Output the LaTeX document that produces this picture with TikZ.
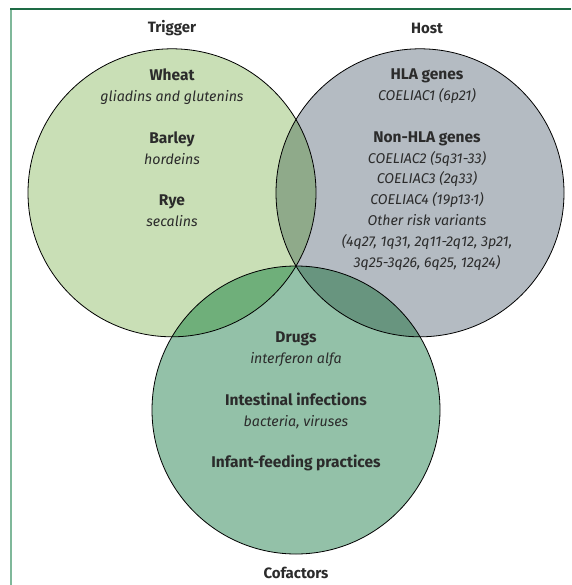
\documentclass[tikz,border=0pt]{standalone}
\usepackage{fontspec}
\setmainfont{Fira Sans}
\usepackage{tikz}
\usetikzlibrary{positioning}
\definecolor{triggergreen} {RGB}{201,223,182}
\definecolor{hostgrey}     {RGB}{180,187,194}
\definecolor{cofactgreen}  {RGB}{147,193,168}
\definecolor{trighost}     {RGB}{143,170,138}
\definecolor{trigcofact}   {RGB}{111,175,122}
\definecolor{hostcofact}   {RGB}{104,149,127}
\definecolor{framegreen}   {RGB}{30,107,69}
\definecolor{framelight}   {RGB}{127,184,154}
\definecolor{inktext}      {RGB}{43,43,43}
\newcommand{\itemhead}[1]{{\fontsize{15.5}{20.8}\selectfont\bfseries #1}}

\begin{document}
\begin{tikzpicture}[
  x=1pt,y=-1pt,
  every node/.style={font=\fontsize{14.2}{20.8}\selectfont,text=inktext},
  head/.style={font=\fontsize{15}{20.8}\selectfont\bfseries,inner sep=0pt},
  blockt/.style={align=center,inner sep=0pt,anchor=north},
  outline/.style={draw=black,line width=0.8pt},
]
\useasboundingbox (0,0) rectangle (571,585);

%% ── Frame lines ──────────────────────────────────────────────────────────
\draw[framelight,line width=1.6pt] (11,9) -- (11,585);
\draw[framegreen,line width=1.6pt] (10.2,9) -- (571,9);

%% ── Circle fills ─────────────────────────────────────────────────────────
\fill[triggergreen] (172,192.8) circle (144);
\fill[hostgrey]     (420,192.8) circle (144);
\fill[cofactgreen]  (296,410)   circle (144);

%% ── Overlaps ─────────────────────────────────────────────────────────────
\begin{scope}
  \clip (172,192.8) circle (144);
  \fill[trighost]   (420,192.8) circle (144);
  \fill[trigcofact] (296,410)   circle (144);
\end{scope}
\begin{scope}
  \clip (420,192.8) circle (144);
  \fill[hostcofact] (296,410) circle (144);
\end{scope}

%% ── Outlines ─────────────────────────────────────────────────────────────
\draw[outline] (172,192.8) circle (144);
\draw[outline] (420,192.8) circle (144);
\draw[outline] (296,410)   circle (144);

%% ── Headings ─────────────────────────────────────────────────────────────
\node[head] (trigger)  at (172,28)  {Trigger};
\node[head] (host)     at (427,28)  {Host};
\node[head] (cofactor) at (296,573) {Cofactors};

%% ── Trigger ──────────────────────────────────────────────────────────────
\node[blockt] (grains) at (172,69)
  {\itemhead{Wheat}\\\textit{gliadins and glutenins}\\[20.8pt]
   \itemhead{Barley}\\\textit{hordeins}\\[20.8pt]
   \itemhead{Rye}\\\textit{secalins}};

%% ── Host ─────────────────────────────────────────────────────────────────
\node[blockt] (genes) at (427,69)
  {\itemhead{HLA genes}\\\textit{COELIAC1 (6p21)}\\[20.8pt]
   \itemhead{Non-HLA genes}\\\textit{COELIAC2 (5q31-33)}\\
   \textit{COELIAC3 (2q33)}\\\textit{COELIAC4 (19p13·1)}\\
   \textit{Other risk variants}\\
   \textit{(4q27, 1q31, 2q11-2q12, 3p21,}\\
   \textit{3q25-3q26, 6q25, 12q24)}};

%% ── Cofactors ────────────────────────────────────────────────────────────
\node[blockt] (factors) at (296,332)
  {\itemhead{Drugs}\\\textit{interferon alfa}\\[20.8pt]
   \itemhead{Intestinal infections}\\\textit{bacteria, viruses}\\[20.8pt]
   \itemhead{Infant-feeding practices}};

\end{tikzpicture}
\end{document}
